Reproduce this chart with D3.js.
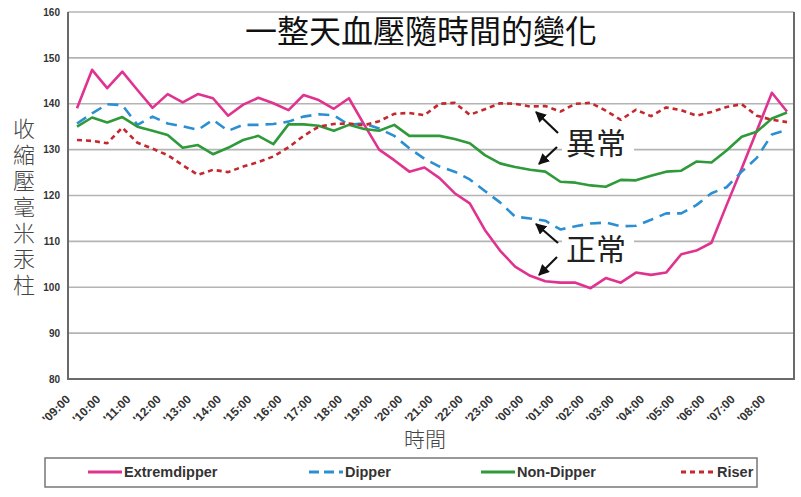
<!DOCTYPE html>
<html>
<head>
<meta charset="utf-8">
<script src="https://cdn.jsdelivr.net/npm/d3@7"></script>
<style>
  body { margin: 0; background: #fff; }
  svg { display: block; }
</style>
</head>
<body>
<div id="chart"></div>
<script>
// half-hour categories, 09:00 through 08:30 next morning
const times = ['09:00','09:30','10:00','10:30','11:00','11:30','12:00','12:30','13:00','13:30',
  '14:00','14:30','15:00','15:30','16:00','16:30','17:00','17:30','18:00','18:30',
  '19:00','19:30','20:00','20:30','21:00','21:30','22:00','22:30','23:00','23:30',
  '00:00','00:30','01:00','01:30','02:00','02:30','03:00','03:30','04:00','04:30',
  '05:00','05:30','06:00','06:30','07:00','07:30','08:00','08:30']

const yTicks = [80, 90, 100, 110, 120, 130, 140, 150, 160]

const extremdipper = [139.0,147.4,143.4,147.0,143.0,139.1,142.1,140.3,142.1,141.2,
  137.4,139.8,141.3,140.1,138.6,141.9,140.8,138.9,141.2,135.5,
  130.0,127.7,125.2,126.1,123.8,120.5,118.3,112.5,108.0,104.5,
  102.5,101.3,101.0,101.0,99.8,102.0,101.0,103.2,102.7,103.2,
  107.2,108.0,109.7,117.9,125.9,134.1,142.4,138.3]

const dipper = [135.7,137.9,139.9,139.7,135.4,137.2,135.7,135.1,134.3,136.5,
  134.1,135.4,135.4,135.6,136.1,137.2,137.7,137.5,135.4,135.7,
  134.6,133.0,130.3,128.0,126.3,125.2,123.5,121.0,118.5,115.4,
  115.0,114.5,112.6,113.3,113.9,114.1,113.3,113.4,114.7,116.1,
  116.1,117.9,120.5,121.8,125.2,128.2,133.3,134.3]

const nonDipper = [135.0,137.0,135.9,137.1,135.0,134.1,133.2,130.4,131.0,129.0,
  130.4,132.1,133.0,131.2,135.5,135.5,135.2,134.1,135.4,134.5,
  134.1,135.4,133.0,133.0,133.0,132.3,131.4,128.8,127.0,126.2,
  125.6,125.2,123.0,122.8,122.2,121.9,123.4,123.3,124.3,125.2,
  125.4,127.4,127.2,129.8,132.8,133.9,136.8,138.1]

const riser = [132.1,131.9,131.4,134.8,131.5,130.2,128.8,126.6,124.5,125.6,
  125.1,126.3,127.3,128.5,130.5,133.0,135.0,135.6,135.7,135.3,
  136.2,137.8,138.0,137.5,140.0,140.2,137.6,138.8,140.1,140.0,
  139.4,139.5,138.3,140.0,140.2,138.5,136.5,138.7,137.3,139.2,
  138.6,137.4,138.2,139.3,139.9,137.4,136.5,136.0]

const seriesNames = ['Extremdipper', 'Dipper', 'Non-Dipper', 'Riser']
const seriesValues = [extremdipper, dipper, nonDipper, riser]
const seriesColors = ['#e0328f', '#2b8fd2', '#2f9a3a', '#c4272c']
const seriesDash = [null, '11,7', null, '5,4']

const title = '一整天血壓隨時間的變化'
const yTitle = '收縮壓毫米汞柱'
const xTitle = '時間'

const svgWidth = 801
const svgHeight = 497

// plot frame
const plot = { left: 68, right: 794, top: 12, bottom: 379 }

const svg = d3.select('#chart')
  .append('svg')
  .attr('width', svgWidth)
  .attr('height', svgHeight)
  .style('font-family', '"Liberation Sans", Arial, sans-serif')

svg.append('rect')
  .attr('width', svgWidth)
  .attr('height', svgHeight)
  .attr('fill', '#fff')

////////////////////////////////////
//////////////scales////////////////
////////////////////////////////////

const xScale = d3.scalePoint()
  .domain(times)
  .range([77, 787])

const yScale = d3.scaleLinear()
  .domain([80, 160])
  .range([plot.bottom, plot.top])

////////////////////////////////////
//////////////grid + axes///////////
////////////////////////////////////

svg.append('g')
  .selectAll('line')
  .data(yTicks)
  .join('line')
  .attr('x1', plot.left)
  .attr('x2', plot.right)
  .attr('y1', d => yScale(d))
  .attr('y2', d => yScale(d))
  .attr('stroke', '#b4b4b4')
  .attr('stroke-width', 1.6)

const yAxis = svg.append('g')
  .attr('transform', `translate(${plot.left},0)`)
  .call(d3.axisLeft(yScale).tickValues(yTicks).tickSize(0).tickPadding(8))
yAxis.select('.domain').remove()
yAxis.selectAll('text')
  .attr('font-size', 10)
  .attr('font-weight', 'bold')
  .attr('fill', '#333')

// left / bottom axis lines and right border
svg.append('path')
  .attr('d', `M${plot.left},${plot.top}V${plot.bottom}H${plot.right}V${plot.top}`)
  .attr('fill', 'none')
  .attr('stroke', '#6a6a6a')
  .attr('stroke-width', 2)

// x labels on the hours only
const hourLabels = times.filter((d, i) => i % 2 == 0)

svg.append('g')
  .selectAll('text')
  .data(hourLabels)
  .join('text')
  .attr('transform', d => `translate(${xScale(d) - 6},${plot.bottom + 21}) rotate(-45)`)
  .attr('text-anchor', 'end')
  .attr('font-size', 12)
  .attr('font-weight', 'bold')
  .attr('fill', '#333')
  .text(d => "'" + d)

////////////////////////////////////
//////////////lines/////////////////
////////////////////////////////////

const line = d3.line()
  .x((d, i) => xScale(times[i]))
  .y(d => yScale(d))

svg.append('g')
  .selectAll('path')
  .data(seriesValues)
  .join('path')
  .attr('d', d => line(d))
  .attr('fill', 'none')
  .attr('stroke', (d, i) => seriesColors[i])
  .attr('stroke-width', 2.6)
  .attr('stroke-dasharray', (d, i) => seriesDash[i])
  .attr('stroke-linejoin', 'round')

////////////////////////////////////
//////////////annotations///////////
////////////////////////////////////

svg.append('defs').append('marker')
  .attr('id', 'head')
  .attr('viewBox', '0 0 10 10')
  .attr('refX', 9)
  .attr('refY', 5)
  .attr('markerWidth', 5)
  .attr('markerHeight', 5)
  .attr('orient', 'auto')
  .append('path')
  .attr('d', 'M0,0L10,5L0,10Z')
  .attr('fill', '#111')

const notes = [
  { text: '異常', x: 596, y: 143, arrows: [[558, 133, 536, 112], [557, 147, 539, 164]] },
  { text: '正常', x: 596, y: 249, arrows: [[558, 243, 536, 224], [557, 257, 539, 275]] }
]

notes.forEach(n => {
  svg.append('rect')
    .attr('x', n.x - 34)
    .attr('y', n.y - 17)
    .attr('width', 72)
    .attr('height', 34)
    .attr('fill', '#fff')
  svg.append('text')
    .attr('x', n.x)
    .attr('y', n.y)
    .attr('dy', '0.36em')
    .attr('text-anchor', 'middle')
    .attr('font-family', '"Noto Sans CJK TC", sans-serif')
    .attr('font-size', 30)
    .attr('fill', '#222')
    .text(n.text)
  n.arrows.forEach(a => {
    svg.append('line')
      .attr('x1', a[0]).attr('y1', a[1])
      .attr('x2', a[2]).attr('y2', a[3])
      .attr('stroke', '#111')
      .attr('stroke-width', 2.2)
      .attr('marker-end', 'url(#head)')
  })
})

////////////////////////////////////
//////////////titles////////////////
////////////////////////////////////

svg.append('text')
  .attr('x', 421)
  .attr('y', 43)
  .attr('text-anchor', 'middle')
  .attr('font-family', '"Noto Sans CJK TC", sans-serif')
  .attr('font-size', 32)
  .attr('fill', '#111')
  .text(title)

// vertical y title, one column
svg.append('text')
  .attr('x', 24)
  .attr('y', 118)
  .attr('font-family', '"Noto Sans CJK TC", sans-serif')
  .attr('font-size', 22)
  .attr('font-weight', 300)
  .attr('fill', '#444')
  .style('writing-mode', 'vertical-rl')
  .style('letter-spacing', '4px')
  .text(yTitle)

svg.append('text')
  .attr('x', 425)
  .attr('y', 447)
  .attr('text-anchor', 'middle')
  .attr('font-family', '"Noto Sans CJK TC", sans-serif')
  .attr('font-size', 21)
  .attr('font-weight', 300)
  .attr('fill', '#444')
  .text(xTitle)

////////////////////////////////////
//////////////legend////////////////
////////////////////////////////////

svg.append('rect')
  .attr('x', 45)
  .attr('y', 458)
  .attr('width', 712)
  .attr('height', 29)
  .attr('fill', '#fff')
  .attr('stroke', '#777')
  .attr('stroke-width', 1.5)

const legendX = [88, 309, 481, 681]

const legend = svg.append('g')
  .selectAll('g')
  .data(seriesNames)
  .join('g')
  .attr('transform', (d, i) => `translate(${legendX[i]},472)`)

legend.append('line')
  .attr('x1', 0)
  .attr('x2', 34)
  .attr('stroke', (d, i) => seriesColors[i])
  .attr('stroke-width', 3)
  .attr('stroke-dasharray', (d, i) => seriesDash[i] ? (i == 1 ? '10,5' : '5,4') : null)

legend.append('text')
  .attr('x', 36)
  .attr('dy', '0.35em')
  .attr('font-size', 14.5)
  .attr('font-weight', 'bold')
  .attr('fill', '#333')
  .text(d => d)
</script>
</body>
</html>
